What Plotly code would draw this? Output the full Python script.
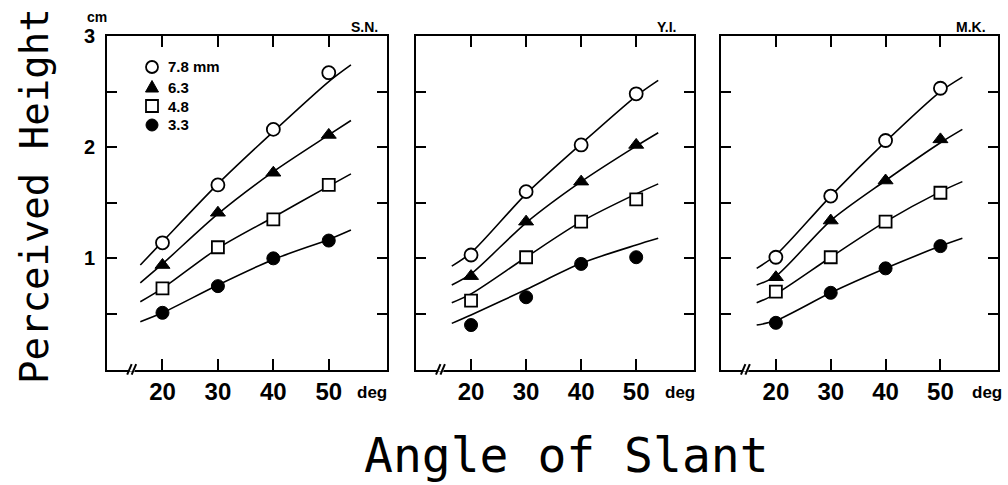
import plotly.graph_objects as go

# ---------------- data ----------------
angles = [20, 30, 40, 50]
angle_labels = ["20", "30", "40", "50"]
size_labels = ["7.8 mm", "6.3", "4.8", "3.3"]
subjects = ["S.N.", "Y.I.", "M.K."]

# Perceived height (cm), subject S.N.
sn_78 = [1.14, 1.66, 2.16, 2.67]
sn_63 = [0.94, 1.41, 1.77, 2.11]
sn_48 = [0.73, 1.10, 1.35, 1.66]
sn_33 = [0.51, 0.75, 1.00, 1.16]
# subject Y.I.
yi_78 = [1.03, 1.60, 2.02, 2.48]
yi_63 = [0.84, 1.33, 1.69, 2.02]
yi_48 = [0.62, 1.01, 1.33, 1.53]
yi_33 = [0.40, 0.65, 0.95, 1.01]
# subject M.K.
mk_78 = [1.01, 1.56, 2.06, 2.53]
mk_63 = [0.83, 1.34, 1.70, 2.07]
mk_48 = [0.70, 1.01, 1.33, 1.59]
mk_33 = [0.42, 0.69, 0.91, 1.11]

# fitted curves
sn_fit_angles = [16, 20, 30, 40, 50, 54]
sn_fit_78 = [0.94, 1.15, 1.67, 2.14, 2.59, 2.74]
sn_fit_63 = [0.78, 0.95, 1.40, 1.78, 2.11, 2.24]
sn_fit_48 = [0.61, 0.73, 1.09, 1.37, 1.65, 1.76]
sn_fit_33 = [0.43, 0.51, 0.76, 0.99, 1.17, 1.255]

yi_fit_angles = [16.5, 20, 30, 40, 50, 54]
yi_fit_78 = [0.93, 1.05, 1.58, 2.03, 2.46, 2.60]
yi_fit_63 = [0.76, 0.86, 1.32, 1.69, 2.01, 2.13]
yi_fit_48 = [0.60, 0.68, 1.01, 1.33, 1.58, 1.67]
yi_fit_33 = [0.415, 0.49, 0.72, 0.955, 1.12, 1.18]

mk_fit_angles = [16.5, 20, 30, 40, 50, 54]
mk_fit_78 = [0.91, 1.03, 1.56, 2.05, 2.50, 2.63]
mk_fit_63 = [0.76, 0.84, 1.34, 1.70, 2.04, 2.16]
mk_fit_48 = [0.60, 0.68, 1.01, 1.33, 1.60, 1.69]
mk_fit_33 = [0.40, 0.44, 0.69, 0.91, 1.11, 1.18]

panel_points = [
    [sn_78, sn_63, sn_48, sn_33],
    [yi_78, yi_63, yi_48, yi_33],
    [mk_78, mk_63, mk_48, mk_33],
]
panel_fit_x = [sn_fit_angles, yi_fit_angles, mk_fit_angles]
panel_fits = [
    [sn_fit_78, sn_fit_63, sn_fit_48, sn_fit_33],
    [yi_fit_78, yi_fit_63, yi_fit_48, yi_fit_33],
    [mk_fit_78, mk_fit_63, mk_fit_48, mk_fit_33],
]

# ---------------- styling ----------------
W, H = 1008, 485
BOLD = "Liberation Sans, Arial, sans-serif"
MONO = "DejaVu Sans Mono, monospace"

marker_styles = [
    dict(symbol="circle", size=13, color="white", line=dict(color="black", width=1.8)),
    dict(symbol="triangle-up", size=13, color="black", line=dict(color="black", width=1)),
    dict(symbol="square", size=12, color="white", line=dict(color="black", width=1.8)),
    dict(symbol="circle", size=13, color="black", line=dict(color="black", width=1)),
]

x_domains = [[0.1062, 0.3839], [0.4127, 0.6885], [0.7153, 0.9901]]
y_domain = [0.2381, 0.9258]

fig = go.Figure()

for p in range(3):
    xa = "x" if p == 0 else f"x{p+1}"
    ya = "y" if p == 0 else f"y{p+1}"
    for s in range(4):
        fig.add_trace(go.Scatter(
            x=panel_fit_x[p], y=panel_fits[p][s], mode="lines",
            line=dict(color="black", width=1.6, shape="spline", smoothing=0.8),
            xaxis=xa, yaxis=ya, showlegend=False, hoverinfo="skip"))
    for s in range(4):
        fig.add_trace(go.Scatter(
            x=angles, y=panel_points[p][s], mode="markers",
            marker=marker_styles[s], name=size_labels[s],
            xaxis=xa, yaxis=ya, showlegend=False, cliponaxis=False))

axis_common = dict(showgrid=False, zeroline=False, showline=True, linecolor="black",
                   linewidth=2, mirror="ticks", ticks="inside", tickcolor="black",
                   tickwidth=2, fixedrange=True, automargin=False)

layout = dict(template="none", width=W, height=H,
              margin=dict(l=0, r=0, t=0, b=0, pad=0, autoexpand=False),
              paper_bgcolor="white", plot_bgcolor="white", showlegend=False)

for p in range(3):
    xkey = "xaxis" if p == 0 else f"xaxis{p+1}"
    ykey = "yaxis" if p == 0 else f"yaxis{p+1}"
    yname = "y" if p == 0 else f"y{p+1}"
    xname = "x" if p == 0 else f"x{p+1}"
    layout[xkey] = dict(axis_common, domain=x_domains[p], range=[10, 60.5], anchor=yname,
                        tickvals=angles, ticktext=angle_labels, ticklen=11,
                        tickfont=dict(family=BOLD, size=24, color="black", weight="bold"),
                        ticklabelstandoff=0)
    layout[ykey] = dict(axis_common, domain=y_domain, range=[0, 3], anchor=xname,
                        tickvals=[0.5, 1, 1.5, 2, 2.5, 3],
                        ticktext=(["", "1", "", "2", "", "3"] if p == 0 else [""] * 6),
                        ticklen=10,
                        tickfont=dict(family=BOLD, size=20, color="black", weight="bold"),
                        ticklabelstandoff=6)

fig.update_layout(**layout)


def px(x, y):
    return x / W, 1 - y / H


shapes = []
# axis-break marks
for p in range(3):
    xr = "x domain" if p == 0 else f"x{p+1} domain"
    yr = "y domain" if p == 0 else f"y{p+1} domain"
    shapes.append(dict(type="rect", xref=xr, yref=yr, x0=0.079, x1=0.099, y0=-0.006, y1=0.006,
                       fillcolor="white", line=dict(width=0), layer="above"))
    for x0 in (0.072, 0.088):
        shapes.append(dict(type="line", xref=xr, yref=yr, x0=x0, x1=x0 + 0.016, y0=-0.015, y1=0.016,
                           line=dict(color="black", width=2), layer="above"))

# legend keys (inside first panel)
legend_rows = [67, 87, 106, 125]
key_x = 152
r = 6
# open circle
x0, y0 = px(key_x - r, legend_rows[0] + r)
x1, y1 = px(key_x + r, legend_rows[0] - r)
shapes.append(dict(type="circle", xref="paper", yref="paper", x0=x0, x1=x1, y0=y0, y1=y1,
                   fillcolor="white", line=dict(color="black", width=1.8)))
# filled triangle
ta = px(key_x - 6.5, legend_rows[1] + 5)
tb = px(key_x + 6.5, legend_rows[1] + 5)
tc = px(key_x, legend_rows[1] - 6.5)
shapes.append(dict(type="path", xref="paper", yref="paper",
                   path=f"M {ta[0]},{ta[1]} L {tb[0]},{tb[1]} L {tc[0]},{tc[1]} Z",
                   fillcolor="black", line=dict(color="black", width=1)))
# open square
x0, y0 = px(key_x - r, legend_rows[2] + r)
x1, y1 = px(key_x + r, legend_rows[2] - r)
shapes.append(dict(type="rect", xref="paper", yref="paper", x0=x0, x1=x1, y0=y0, y1=y1,
                   fillcolor="white", line=dict(color="black", width=1.8)))
# filled circle
x0, y0 = px(key_x - r, legend_rows[3] + r)
x1, y1 = px(key_x + r, legend_rows[3] - r)
shapes.append(dict(type="circle", xref="paper", yref="paper", x0=x0, x1=x1, y0=y0, y1=y1,
                   fillcolor="black", line=dict(color="black", width=1)))
fig.update_layout(shapes=shapes)

ann = []
for lab, ry in zip(size_labels, legend_rows):
    x, y = px(166, ry)
    ann.append(dict(text=lab, x=x, y=y, xref="paper", yref="paper", xanchor="left",
                    yanchor="middle", showarrow=False,
                    font=dict(family=BOLD, size=15, color="black", weight="bold")))
# subject names
for name, xr in zip(subjects, [380, 678, 988]):
    x, y = px(xr, 27)
    ann.append(dict(text=name, x=x, y=y, xref="paper", yref="paper", xanchor="right",
                    yanchor="middle", showarrow=False,
                    font=dict(family=BOLD, size=14, color="black", weight="bold")))
# deg labels
for xc in [372, 680, 987]:
    x, y = px(xc, 392)
    ann.append(dict(text="deg", x=x, y=y, xref="paper", yref="paper", xanchor="center",
                    yanchor="middle", showarrow=False,
                    font=dict(family="Liberation Sans Narrow, " + BOLD, size=17, color="black", weight="bold")))
# unit
x, y = px(97, 17)
ann.append(dict(text="cm", x=x, y=y, xref="paper", yref="paper", xanchor="center",
                yanchor="middle", showarrow=False,
                font=dict(family=BOLD, size=14, color="black", weight="bold")))
# axis titles
x, y = px(34, 196)
ann.append(dict(text="Perceived Height", x=x, y=y, xref="paper", yref="paper", textangle=-90,
                xanchor="center", yanchor="middle", showarrow=False,
                font=dict(family=MONO, size=39, color="black")))
x, y = px(566, 455)
ann.append(dict(text="Angle of Slant", x=x, y=y, xref="paper", yref="paper",
                xanchor="center", yanchor="middle", showarrow=False,
                font=dict(family=MONO, size=48, color="black")))
fig.update_layout(annotations=ann)

fig.write_html("out.html", config={"displayModeBar": False},
               post_script="document.body.style.margin='0';document.body.style.overflow='hidden';")
